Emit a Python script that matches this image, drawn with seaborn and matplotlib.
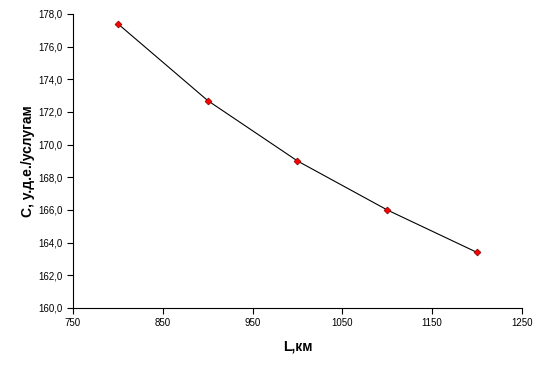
import matplotlib
matplotlib.use('Agg')
import matplotlib.pyplot as plt
import pandas as pd
import seaborn as sns
from matplotlib.ticker import FuncFormatter, MultipleLocator

# Данные графика
L_km = [800, 900, 1000, 1100, 1200]
C_cost = [177.4, 172.7, 169.0, 166.0, 163.4]
x_ticks = [750, 850, 950, 1050, 1150, 1250]

df = pd.DataFrame({'L': L_km, 'C': C_cost})

sns.set_style('white')
plt.rcParams['font.family'] = ['Liberation Sans', 'DejaVu Sans']
plt.rcParams['text.color'] = 'black'
plt.rcParams['axes.labelcolor'] = 'black'

fig = plt.figure(figsize=(5.54, 3.74), dpi=100)
ax = fig.add_axes([0.1318, 0.1765, 0.8104, 0.7861])

sns.lineplot(data=df, x='L', y='C', ax=ax, color='black', linewidth=0.8,
             marker='D', markersize=3.5, markerfacecolor='red',
             markeredgecolor='#800000', markeredgewidth=0.5)

ax.set_xlim(750, 1250)
ax.set_ylim(160, 178)
ax.set_xticks(x_ticks)
ax.yaxis.set_major_locator(MultipleLocator(2))
ax.yaxis.set_major_formatter(FuncFormatter(lambda v, p: f'{v:.1f}'.replace('.', ',')))

for s in ['top', 'right']:
    ax.spines[s].set_visible(False)
for s in ['left', 'bottom']:
    ax.spines[s].set_color('black')
    ax.spines[s].set_linewidth(0.8)

ax.tick_params(axis='both', direction='out', length=4, width=0.8,
               colors='black', labelsize=7, left=True, bottom=True)

ax.set_xlabel('L,км', fontsize=10, fontweight='bold', labelpad=8)
ax.set_ylabel('С, у.д.е./услугам', fontsize=10, fontweight='bold', labelpad=2)

fig.savefig('out.png', dpi=100)
